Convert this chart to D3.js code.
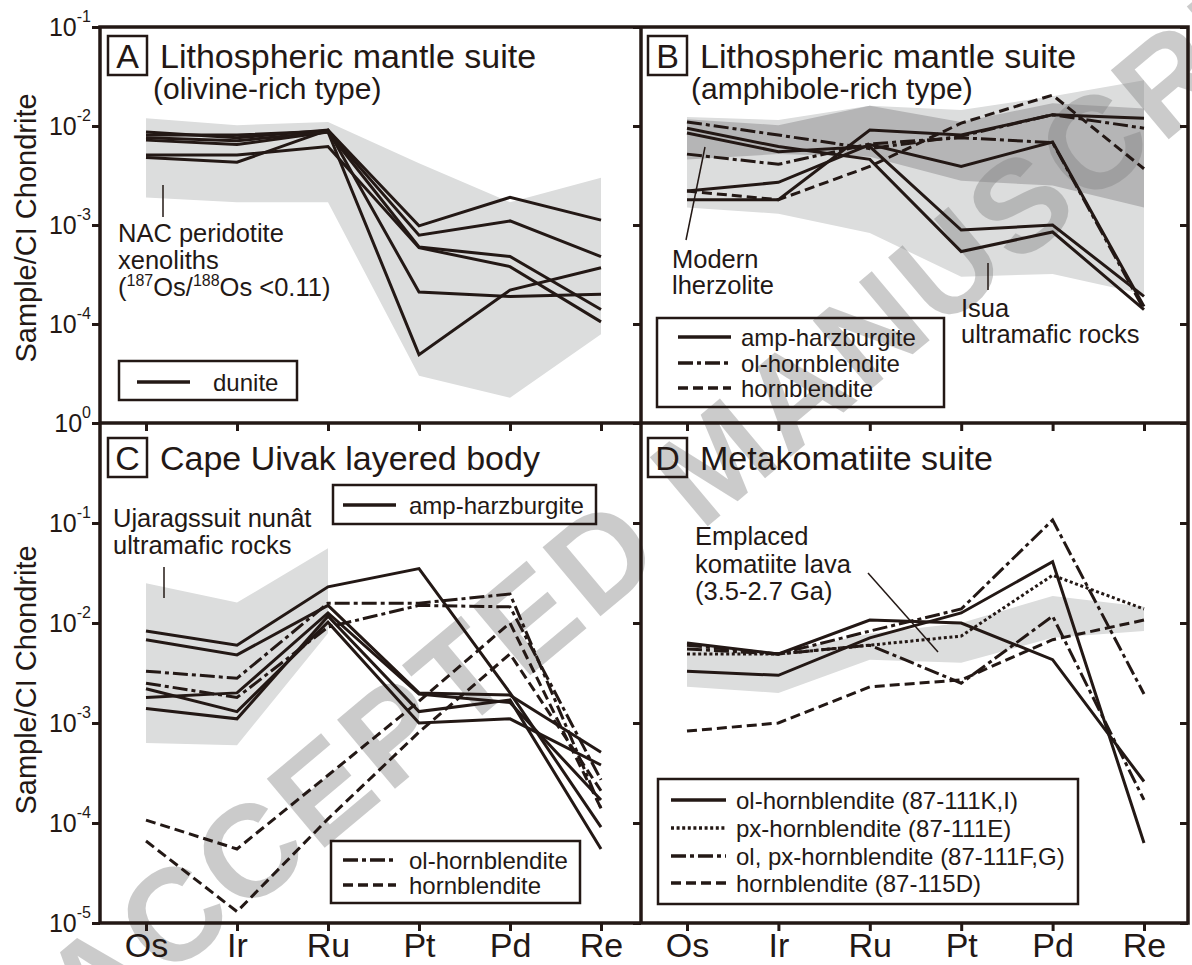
<!DOCTYPE html>
<html>
<head>
<meta charset="utf-8">
<script src="https://d3js.org/d3.v7.min.js"></script>
<style>
  body { margin: 0; background: #fff; }
  svg { display: block; font-family: "Liberation Sans", Arial, Helvetica, sans-serif; }
</style>
</head>
<body>
<svg id="chart" width="1192" height="965"></svg>
<script>
// ---- data ----
var elements = ["Os", "Ir", "Ru", "Pt", "Pd", "Re"];
var topExponents = [-1, -2, -3, -4];
var bottomExponents = [0, -1, -2, -3, -4, -5];

// A: lithospheric mantle suite, olivine-rich
var nacUpper = [1.2e-2, 1.02e-2, 1.1e-2, 4.2e-3, 1.7e-3, 3.0e-3];
var nacLower = [1.9e-3, 1.7e-3, 1.7e-3, 3.0e-5, 1.8e-5, 7.9e-5];
var duniteA = [
  [8.7e-3, 7.6e-3, 9.1e-3, 9.8e-4, 1.9e-3, 1.12e-3],
  [8.1e-3, 8.1e-3, 8.9e-3, 7.9e-4, 1.1e-3, 4.8e-4],
  [7.2e-3, 6.5e-3, 8.7e-3, 6.0e-4, 4.8e-4, 1.4e-4],
  [5.1e-3, 5.1e-3, 6.2e-3, 5.9e-4, 3.8e-4, 1.05e-4],
  [4.8e-3, 4.3e-3, 9.1e-3, 2.1e-4, 1.9e-4, 2.0e-4],
  [7.6e-3, 7.1e-3, 8.7e-3, 4.9e-5, 2.2e-4, 3.7e-4]
];

// B: lithospheric mantle suite, amphibole-rich
var isuaUpper = [1.23e-2, 1.15e-2, 1.6e-2, 1.45e-2, 2.0e-2, 2.9e-2];
var isuaLower = [1.5e-3, 1.3e-3, 8.3e-4, 3.0e-4, 3.2e-4, 2.0e-4];
var lherzUpper = [1.17e-2, 1.02e-2, 1.6e-2, 1.1e-2, 1.7e-2, 1.5e-2];
var lherzLower = [4.6e-3, 5.2e-3, 4.9e-3, 2.8e-3, 2.5e-3, 1.5e-3];
var ampHarzB = [
  [8.5e-3, 5.5e-3, 6.2e-3, 8.9e-4, 1.0e-3, 1.9e-4],
  [9.5e-3, 6.2e-3, 4.6e-3, 5.4e-4, 8.5e-4, 1.4e-4],
  [1.8e-3, 1.8e-3, 9.1e-3, 8.1e-3, 1.3e-2, 1.2e-2],
  [2.2e-3, 2.7e-3, 6.5e-3, 3.9e-3, 6.9e-3, 1.5e-4]
];
var olHornB = [
  [1.1e-2, 8.1e-3, 5.9e-3, 7.9e-3, 1.3e-2, 9.5e-3],
  [5.2e-3, 4.1e-3, 6.6e-3, 7.6e-3, 6.8e-3, 1.4e-4]
];
var hornB = [
  [2.2e-3, 1.8e-3, 3.9e-3, 1.07e-2, 2.05e-2, 3.7e-3]
];

// C: Cape Uivak layered body
var ujarUpper = [2.5e-2, 1.6e-2, 5.6e-2];
var ujarLower = [6.3e-4, 6.0e-4, 7.9e-3];
var ampHarzC = [
  [8.3e-3, 6.0e-3, 2.3e-2, 3.5e-2, 2.0e-3, 9.1e-5],
  [6.8e-3, 4.8e-3, 1.5e-2, 2.0e-3, 1.9e-3, 5.1e-4],
  [1.8e-3, 2.0e-3, 1.26e-2, 1.95e-3, 1.6e-3, 1.7e-4],
  [1.4e-3, 1.1e-3, 1.17e-2, 1.3e-3, 1.7e-3, 5.5e-5],
  [2.2e-3, 1.3e-3, 1.02e-2, 1.0e-3, 1.1e-3, 3.8e-4]
];
var olHornC = [
  [3.3e-3, 2.8e-3, 1.58e-2, 1.58e-2, 1.95e-2, 1.4e-4],
  [2.5e-3, 1.8e-3, 9.1e-3, 1.5e-2, 1.45e-2, 2.7e-4]
];
var hornC = [
  [1.07e-4, 5.5e-5, 3.0e-4, 1.65e-3, 1.0e-2, 1.4e-4],
  [6.6e-5, 1.3e-5, 1.1e-4, 8.1e-4, 4.9e-3, 2.1e-4]
];

// D: metakomatiite suite
var komUpper = [6.0e-3, 5.1e-3, 7.8e-3, 1.0e-2, 1.86e-2, 1.45e-2];
var komLower = [2.3e-3, 2.0e-3, 4.3e-3, 4.0e-3, 7.1e-3, 8.3e-3];
var olHornD = [
  [6.3e-3, 4.9e-3, 1.07e-2, 1.0e-2, 4.3e-3, 2.6e-4],
  [3.3e-3, 3.0e-3, 7.1e-3, 1.26e-2, 4.1e-2, 6.3e-5]
];
var pxHornD = [
  [4.9e-3, 4.9e-3, 6.0e-3, 7.4e-3, 3.0e-2, 1.38e-2]
];
var olPxHornD = [
  [6.0e-3, 4.9e-3, 8.3e-3, 1.38e-2, 1.07e-1, 1.95e-3],
  [5.5e-3, 4.9e-3, 6.0e-3, 2.5e-3, 1.17e-2, 1.7e-4]
];
var hornD = [
  [8.3e-4, 1.0e-3, 2.3e-3, 2.7e-3, 6.8e-3, 1.07e-2]
];

// ---- layout ----
var ink = "#231815";
var lightGray = "#dcdddd";
var darkGray = "#b5b5b6";
var leftX = 100, midX = 641, rightX = 1188;
var topY = 27, midY = 423, bottomY = 923;

var SOLID = null, DASHDOT = "15,4,4,4", DASHED = "10,5", DOTTED = "3,2.6";

var svg = d3.select("#chart");

var xLeft = d3.scalePoint().domain(elements).range([146, 601]);
var xRight = d3.scalePoint().domain(elements).range([687, 1144]);
var yTop = d3.scaleLog().domain([1e-5, 1e-1]).range([midY, topY]);
var yBot = d3.scaleLog().domain([1e-5, 1]).range([bottomY, midY]);

function band(x, y, upper, lower, fill) {
  var idx = d3.range(upper.length);
  var area = d3.area()
    .x(function(i) { return x(elements[i]); })
    .y0(function(i) { return y(lower[i]); })
    .y1(function(i) { return y(upper[i]); });
  svg.append("path").attr("d", area(idx)).attr("fill", fill).attr("stroke", "none");
}

function series(x, y, rows, dash) {
  var line = d3.line()
    .x(function(d, i) { return x(elements[i]); })
    .y(function(d) { return y(d); });
  rows.forEach(function(r) {
    svg.append("path")
      .attr("d", line(r))
      .attr("fill", "none")
      .attr("stroke", ink)
      .attr("stroke-width", 3)
      .attr("stroke-dasharray", dash);
  });
}

// shaded fields
band(xLeft, yTop, nacUpper, nacLower, lightGray);
band(xRight, yTop, isuaUpper, isuaLower, lightGray);
band(xRight, yTop, lherzUpper, lherzLower, darkGray);
band(xLeft, yBot, ujarUpper, ujarLower, lightGray);
band(xRight, yBot, komUpper, komLower, lightGray);

// watermark
svg.append("text")
  .attr("transform", "translate(717,457) rotate(-40)")
  .attr("text-anchor", "middle")
  .attr("dy", "0.36em")
  .attr("font-size", 131)
  .attr("font-weight", "bold")
  .attr("letter-spacing", 4.5)
  .attr("fill", "#808080")
  .attr("opacity", 0.4)
  .text("ACCEPTED MANUSCRIPT");

// data lines
series(xLeft, yTop, duniteA, SOLID);
series(xRight, yTop, ampHarzB, SOLID);
series(xRight, yTop, olHornB, DASHDOT);
series(xRight, yTop, hornB, DASHED);
series(xLeft, yBot, ampHarzC, SOLID);
series(xLeft, yBot, olHornC, DASHDOT);
series(xLeft, yBot, hornC, DASHED);
series(xRight, yBot, olHornD, SOLID);
series(xRight, yBot, pxHornD, DOTTED);
series(xRight, yBot, olPxHornD, DASHDOT);
series(xRight, yBot, hornD, DASHED);

// ---- axes ----
function styleAxis(g) {
  g.select(".domain").remove();
  g.selectAll(".tick line").attr("stroke", ink).attr("stroke-width", 3);
  g.attr("font-family", null);
}
function decadeLabels(g) {
  g.attr("font-size", 25);
  g.selectAll(".tick text").each(function(d) {
    var t = d3.select(this).text(null).attr("dy", null).attr("y", 8).attr("fill", ink);
    t.append("tspan").text("10");
    t.append("tspan").attr("font-size", 16).attr("dy", -14)
      .text(String(Math.round(Math.log10(d))));
  });
}

[[yTop, topExponents], [yBot, bottomExponents]].forEach(function(p) {
  var vals = p[1].map(function(e) { return Math.pow(10, e); });
  svg.append("g")
    .attr("transform", "translate(" + leftX + ",0)")
    .call(d3.axisLeft(p[0]).tickValues(vals).tickSize(8).tickPadding(1).tickFormat(function() { return ""; }))
    .call(styleAxis)
    .call(decadeLabels);
  [midX, rightX].forEach(function(xx) {
    svg.append("g")
      .attr("transform", "translate(" + xx + ",0)")
      .call(d3.axisLeft(p[0]).tickValues(vals).tickSize(8).tickFormat(""))
      .call(styleAxis);
  });
});

[xLeft, xRight].forEach(function(x) {
  svg.append("g")
    .attr("transform", "translate(0," + midY + ")")
    .call(d3.axisBottom(x).tickSize(8).tickFormat(""))
    .call(styleAxis);
  svg.append("g")
    .attr("transform", "translate(0," + bottomY + ")")
    .call(d3.axisBottom(x).tickSize(8).tickPadding(2))
    .call(styleAxis)
    .call(function(g) {
      g.attr("font-size", 34);
      g.selectAll(".tick text").attr("fill", ink);
    });
});

// y titles
[228, 680].forEach(function(cy) {
  svg.append("text")
    .attr("transform", "translate(36," + cy + ") rotate(-90)")
    .attr("text-anchor", "middle")
    .attr("font-size", 29)
    .attr("fill", ink)
    .text("Sample/CI Chondrite");
});

// frame
svg.append("rect").attr("x", leftX).attr("y", topY).attr("width", rightX - leftX).attr("height", bottomY - topY)
  .attr("fill", "none").attr("stroke", ink).attr("stroke-width", 3.5);
svg.append("line").attr("x1", leftX).attr("x2", rightX).attr("y1", midY).attr("y2", midY)
  .attr("stroke", ink).attr("stroke-width", 3.5);
svg.append("line").attr("x1", midX).attr("x2", midX).attr("y1", topY).attr("y2", bottomY)
  .attr("stroke", ink).attr("stroke-width", 3.5);

// ---- panel titles ----
function title(letter, bx, by, text, sub, subx) {
  svg.append("rect").attr("x", bx).attr("y", by).attr("width", 39).attr("height", 39)
    .attr("fill", "none").attr("stroke", ink).attr("stroke-width", 2.5);
  svg.append("text").attr("x", bx + 19.5).attr("y", by + 32).attr("text-anchor", "middle")
    .attr("font-size", 34).attr("fill", ink).text(letter);
  svg.append("text").attr("x", bx + 52).attr("y", by + 32)
    .attr("font-size", 34).attr("fill", ink).text(text);
  if (sub) {
    svg.append("text").attr("x", subx).attr("y", by + 63)
      .attr("font-size", 30).attr("fill", ink).text(sub);
  }
}
title("A", 108, 36, "Lithospheric mantle suite", "(olivine-rich type)", 153);
title("B", 648, 36, "Lithospheric mantle suite", "(amphibole-rich type)", 691);
title("C", 108, 438, "Cape Uivak layered body");
title("D", 648, 438, "Metakomatiite suite");

// ---- annotations ----
function lines(x, y0, step, arr) {
  arr.forEach(function(s, i) {
    svg.append("text").attr("x", x).attr("y", y0 + i * step)
      .attr("font-size", 25.5).attr("fill", ink).text(s);
  });
}
function leader(x1, y1, x2, y2) {
  svg.append("line").attr("x1", x1).attr("y1", y1).attr("x2", x2).attr("y2", y2)
    .attr("stroke", ink).attr("stroke-width", 1.5);
}
lines(118, 242, 27, ["NAC peridotite", "xenoliths"]);
var iso = svg.append("text").attr("x", 118).attr("y", 296).attr("font-size", 25.5).attr("fill", ink);
iso.append("tspan").text("(");
iso.append("tspan").attr("font-size", 16).attr("dy", -10).text("187");
iso.append("tspan").attr("dy", 10).text("Os/");
iso.append("tspan").attr("font-size", 16).attr("dy", -10).text("188");
iso.append("tspan").attr("dy", 10).text("Os <0.11)");
leader(163, 185, 163, 217);

lines(672, 268, 26, ["Modern", "lherzolite"]);
leader(705, 147, 686, 240);
lines(961, 317, 26, ["Isua", "ultramafic rocks"]);
leader(988, 263, 988, 290);

lines(113, 527, 27, ["Ujaragssuit nun\u00e2t", "ultramafic rocks"]);
leader(164, 567, 164, 598);

lines(695, 545, 27.5, ["Emplaced", "komatiite lava", "(3.5-2.7 Ga)"]);
leader(868, 573, 938, 652);

// ---- legends ----
function legend(bx, by, bw, bh, sx1, sx2, tx, rows) {
  svg.append("rect").attr("x", bx).attr("y", by).attr("width", bw).attr("height", bh)
    .attr("fill", "none").attr("stroke", ink).attr("stroke-width", 2.5);
  rows.forEach(function(r) {
    svg.append("line").attr("x1", sx1).attr("x2", sx2).attr("y1", r[0]).attr("y2", r[0])
      .attr("stroke", ink).attr("stroke-width", 3.5).attr("stroke-dasharray", r[2]);
    svg.append("text").attr("x", tx).attr("y", r[0] + 8.5)
      .attr("font-size", 24).attr("fill", ink).text(r[1]);
  });
}
legend(119, 361, 178, 39, 137, 190, 213, [[382, "dunite", SOLID]]);
legend(657, 318, 287, 89, 678, 731, 741, [
  [337, "amp-harzburgite", SOLID],
  [363, "ol-hornblendite", DASHDOT],
  [388, "hornblendite", DASHED]
]);
legend(333, 485, 263, 39, 343, 396, 409, [[505, "amp-harzburgite", SOLID]]);
legend(331, 841, 249, 62, 343, 396, 409, [
  [860, "ol-hornblendite", DASHDOT],
  [885, "hornblendite", DASHED]
]);
legend(658, 779, 420, 125, 671, 726, 736, [
  [800, "ol-hornblendite (87-111K,I)", SOLID],
  [828, "px-hornblendite (87-111E)", DOTTED],
  [856, "ol, px-hornblendite (87-111F,G)", DASHDOT],
  [883, "hornblendite (87-115D)", DASHED]
]);
</script>
</body>
</html>
